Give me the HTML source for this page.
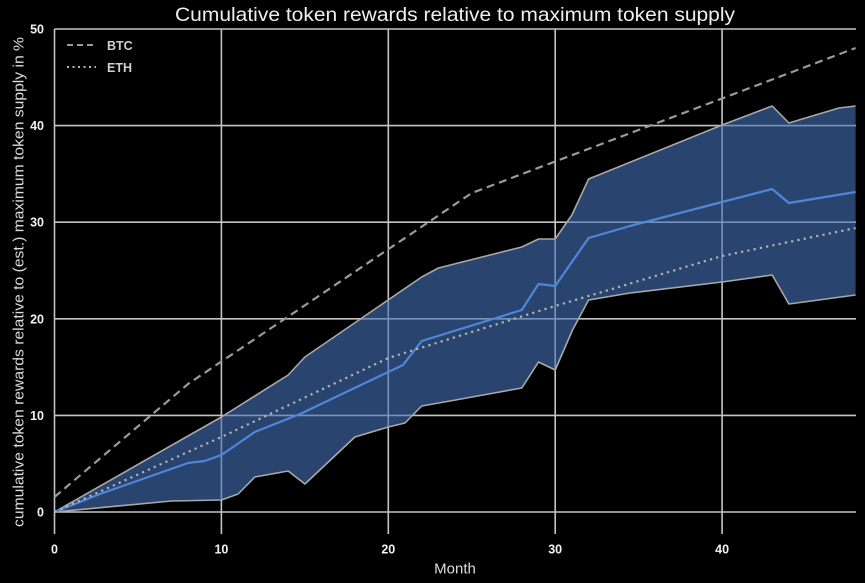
<!DOCTYPE html>
<html>
<head>
<meta charset="utf-8">
<style>
  html,body{margin:0;padding:0;background:#000;}
  svg{display:block;}
  text{font-family:"Liberation Sans",Arial,sans-serif;}
</style>
</head>
<body>
<svg width="865" height="583" viewBox="0 0 865 583" xmlns="http://www.w3.org/2000/svg">
  <rect x="0" y="0" width="865" height="583" fill="#000"/>

  <!-- grid -->
  <g stroke="#c4c4c4" stroke-width="1.6" fill="none">
    <line x1="54.5" y1="512" x2="856" y2="512"/>
    <line x1="54.5" y1="415.4" x2="856" y2="415.4"/>
    <line x1="54.5" y1="318.8" x2="856" y2="318.8"/>
    <line x1="54.5" y1="222.2" x2="856" y2="222.2"/>
    <line x1="54.5" y1="125.6" x2="856" y2="125.6"/>
    <line x1="54.5" y1="29" x2="856" y2="29"/>
    <line x1="54.5" y1="29" x2="54.5" y2="534"/>
    <line x1="221.4" y1="29" x2="221.4" y2="534"/>
    <line x1="388.3" y1="29" x2="388.3" y2="534"/>
    <line x1="555.2" y1="29" x2="555.2" y2="534"/>
    <line x1="722.1" y1="29" x2="722.1" y2="534"/>
  </g>

  <!-- band fill -->
  <polygon fill="#4472b8" fill-opacity="0.6"
    points="54.5,512 221.4,417 288.2,375 304.9,357 421.7,277 438.4,268 521.8,247 538.5,239 555.2,239 571.9,215 588.6,179 722.1,125 772.2,106 788.9,123 838.9,108 855.6,106
            855.6,295 788.9,304 772.2,275 722.1,282 630,293 588.6,300 572.5,330 555.2,370 538.5,362 521.8,388 450,401 421.7,406 405,423 388.3,427 354.9,437 304.9,484 288.2,471 254.8,477 238.1,494 221.4,500 171.3,501"/>
  <!-- band edges -->
  <g stroke="#a8a8a8" stroke-width="1.6" fill="none" stroke-linejoin="round">
    <polyline points="54.5,512 221.4,417 288.2,375 304.9,357 421.7,277 438.4,268 521.8,247 538.5,239 555.2,239 571.9,215 588.6,179 722.1,125 772.2,106 788.9,123 838.9,108 855.6,106"/>
    <polyline points="54.5,512 171.3,501 221.4,500 238.1,494 254.8,477 288.2,471 304.9,484 354.9,437 388.3,427 405,423 421.7,406 450,401 521.8,388 538.5,362 555.2,370 572.5,330 588.6,300 630,293 722.1,282 772.2,275 788.9,304 855.6,295"/>
  </g>

  <!-- mean line -->
  <polyline fill="none" stroke="#4f86d8" stroke-width="2.2" stroke-linejoin="round"
    points="54.5,512 100,494 188,463 204.7,461 221.4,455 254.8,432 300,414 403,365 421.7,341 521.8,310 538.5,284 555.2,286 588.6,238 630,226 722.1,202 772.2,189 788.9,203 855.6,192"/>

  <!-- ETH dotted -->
  <polyline fill="none" stroke="#b4b4b4" stroke-width="2.2" stroke-dasharray="2.2,4.2"
    points="54.5,512 221.4,437 388.3,358 555.2,306 722.1,256 855.6,228"/>

  <!-- BTC dashed -->
  <polyline fill="none" stroke="#9a9a9a" stroke-width="2.2" stroke-dasharray="8,5"
    points="54.5,497 188,384 471.8,193 855.6,48"/>

  <!-- legend -->
  <line x1="67" y1="45" x2="96" y2="45" stroke="#9a9a9a" stroke-width="2" stroke-dasharray="6,4"/>
  <text x="107" y="50" font-size="12.5" font-weight="bold" fill="#cfcfcf">BTC</text>
  <line x1="67" y1="67" x2="96" y2="67" stroke="#b4b4b4" stroke-width="2" stroke-dasharray="2,3.5"/>
  <text x="107" y="72" font-size="12.5" font-weight="bold" fill="#cfcfcf">ETH</text>

  <!-- title -->
  <text x="455" y="21" font-size="19.5" fill="#eeeeee" text-anchor="middle" textLength="560" lengthAdjust="spacingAndGlyphs">Cumulative token rewards relative to maximum token supply</text>

  <!-- y tick labels -->
  <g font-size="12.5" font-weight="bold" fill="#f2f2f2" text-anchor="end">
    <text x="44" y="516.5">0</text>
    <text x="44" y="420">10</text>
    <text x="44" y="323.3">20</text>
    <text x="44" y="226.7">30</text>
    <text x="44" y="130">40</text>
    <text x="44" y="33.5">50</text>
  </g>

  <!-- x tick labels -->
  <g font-size="12.5" font-weight="bold" fill="#f2f2f2" text-anchor="middle">
    <text x="54.5" y="553.5">0</text>
    <text x="221.4" y="553.5">10</text>
    <text x="388.3" y="553.5">20</text>
    <text x="555.2" y="553.5">30</text>
    <text x="722.1" y="553.5">40</text>
  </g>

  <!-- axis labels -->
  <text x="455" y="573.5" font-size="15" fill="#dddddd" text-anchor="middle">Month</text>
  <text transform="translate(23.5,282) rotate(-90)" x="0" y="0" font-size="15" fill="#dddddd" text-anchor="middle" textLength="490" lengthAdjust="spacingAndGlyphs">cumulative token rewards relative to (est.) maximum token supply in %</text>
</svg>
</body>
</html>
